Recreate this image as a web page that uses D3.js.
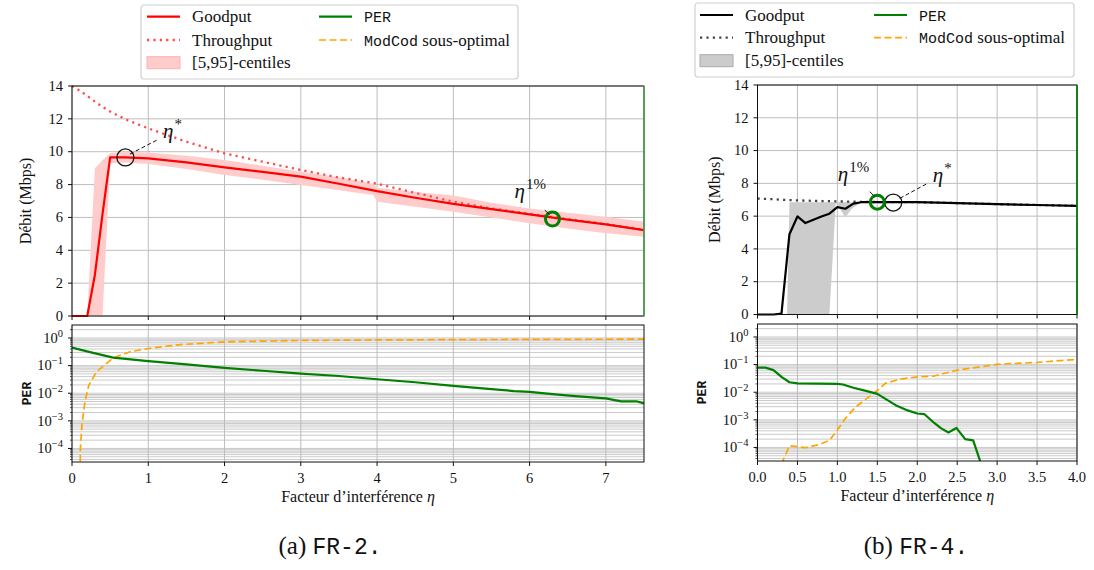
<!DOCTYPE html>
<html><head><meta charset="utf-8">
<script src="https://cdn.jsdelivr.net/npm/d3@7"></script>
<style>body{margin:0;background:#fff}svg text{fill:#111}</style>
</head><body><svg id="c" width="1094" height="570"></svg>
<script>
// ---------- FR-2 data ----------
const fr2Eta        = [0,0.1,0.2,0.3,0.4,0.5,0.7,1.0,1.5,2.0,2.5,3.0,3.5,3.95,4.0,4.5,5.0,5.5,6.0,6.5,7.0,7.5];
const fr2Goodput    = [0,0,0,2.5,6.2,9.65,9.65,9.6,9.35,9.05,8.77,8.48,8.05,7.65,7.6,7.2,6.82,6.5,6.19,5.87,5.58,5.23];
const fr2Throughput = [14.0,13.72,13.4,13.05,12.73,12.45,11.97,11.42,10.61,9.9,9.39,8.89,8.43,8.1,8.06,7.5,6.96,6.55,6.22,5.9,5.6,5.25];
const fr2BandLow    = [0,0,0,0,0,9.3,9.35,9.25,8.95,8.58,8.3,7.97,7.65,7.36,6.96,6.65,6.35,6.0,5.64,5.33,5.03,4.83];
const fr2BandHigh   = [0,0,0,9.0,9.5,9.9,10.0,9.95,9.75,9.5,9.15,8.78,8.45,8.05,7.8,7.55,7.33,6.9,6.55,6.28,6.04,5.74];
const fr2PerEta     = [0,0.25,0.54,1.0,1.5,2.0,2.5,3.0,3.5,4.0,4.5,5.0,5.5,5.8,6.0,6.3,6.6,7.0,7.2,7.4,7.5];
const fr2Per        = [0.447,0.302,0.195,0.145,0.11,0.083,0.065,0.051,0.042,0.032,0.025,0.0186,0.014,0.012,0.0112,0.0093,0.0079,0.0065,0.0051,0.0051,0.0043];
const fr2ModEta     = [0.1,0.11,0.13,0.17,0.22,0.32,0.54,0.76,1.0,1.42,2.0,3.0,4.0,5.0,6.0,7.0,7.5];
const fr2ModCod     = [1e-6,1e-4,7e-4,4.9e-3,0.0195,0.059,0.19,0.316,0.417,0.575,0.724,0.813,0.85,0.87,0.89,0.9,0.91];
const fr2Star = [0.7, 9.65], fr2One = [6.3, 5.9], fr2VLine = 7.5;
const fr2XTicks = [0,1,2,3,4,5,6,7];

// ---------- FR-4 data ----------
const fr4Eta        = [0,0.1,0.2,0.3,0.4,0.5,0.6,0.7,0.8,0.9,1.0,1.1,1.2,1.3,1.5,2.0,2.5,3.0,3.5,4.0];
const fr4Goodput    = [0,0,0,0.05,4.9,5.98,5.58,5.78,5.98,6.15,6.55,6.45,6.76,6.85,6.86,6.85,6.8,6.73,6.68,6.63];
const fr4Throughput = [7.07,7.05,7.03,7.0,6.98,6.96,6.95,6.93,6.92,6.91,6.9,6.89,6.88,6.87,6.86,6.85,6.8,6.73,6.68,6.63];
const fr4BandEta    = [0.37,0.40,0.90,0.98,1.03,1.10,1.18,1.30,1.5];
const fr4BandLow    = [0,0,0,6.8,6.45,5.94,6.45,6.85,6.86];
const fr4BandHigh   = [0,6.85,6.85,6.85,6.85,6.85,6.85,6.87,6.86];
const fr4PerEta     = [0,0.1,0.2,0.3,0.4,0.5,1.0,1.07,1.2,1.37,1.5,1.73,1.88,2.0,2.09,2.22,2.3,2.39,2.49,2.6,2.7,2.8,2.9];
const fr4Per        = [0.078,0.078,0.063,0.036,0.023,0.021,0.020,0.019,0.0145,0.011,0.0087,0.0034,0.0022,0.0017,0.0016,0.00074,0.00049,0.00035,0.00051,0.0002,0.00018,2.5e-5,1e-6];
const fr4ModEta     = [0.3,0.4,0.5,0.6,0.78,0.9,1.0,1.1,1.23,1.37,1.5,1.6,1.78,2.0,2.2,2.5,3.0,3.5,4.0];
const fr4ModCod     = [2.5e-5,1.15e-4,1.07e-4,9.8e-5,1.29e-4,1.8e-4,4.3e-4,1.12e-3,2.95e-3,6.0e-3,0.0115,0.021,0.0295,0.036,0.038,0.063,0.102,0.12,0.155];
const fr4Star = [1.7, 6.83], fr4One = [1.5, 6.85], fr4VLine = 4.0;
const fr4XTicks = [0,0.5,1,1.5,2,2.5,3,3.5,4];

const yTicksTop = [0,2,4,6,8,10,12,14];
const logMajors = [1e-4,1e-3,1e-2,1e-1,1];
const logMajorExp = ["\u22124","\u22123","\u22122","\u22121","0"];

const svg = d3.select("#c");
const defs = svg.append("defs");
const SERIF = '"Liberation Serif", serif';
const MONO = '"Liberation Mono", monospace';
const GRID = "#bdbdbd";
const TICKFS = 14.5, LABFS = 16;

function txt(sel) { return sel.append("text").style("font-family", SERIF); }
function span(t, s, mono) { return t.append("tspan").style("font-family", mono ? MONO : SERIF).text(s); }

function drawChart(c) {
  const g = svg.append("g");
  const x = d3.scaleLinear().domain([0, c.xMax]).range([c.L, c.R]);
  const yT = d3.scaleLinear().domain([0, 14]).range([c.tB, c.tT]);
  const yB = d3.scaleLog().domain([Math.pow(10,-4.49), Math.pow(10,0.47)]).range([c.bB, c.bT]);

  defs.append("clipPath").attr("id", c.id+"T").append("rect")
    .attr("x", c.L).attr("y", c.tT-1).attr("width", c.R-c.L).attr("height", c.tB-c.tT+2.5);
  defs.append("clipPath").attr("id", c.id+"B").append("rect")
    .attr("x", c.L).attr("y", c.bT).attr("width", c.R-c.L).attr("height", c.bB-c.bT);

  // ---- grids ----
  const gg = g.append("g").attr("stroke", GRID).attr("stroke-width", 1);
  c.xTicks.forEach(t => {
    gg.append("line").attr("x1", x(t)).attr("x2", x(t)).attr("y1", c.tT).attr("y2", c.tB);
    gg.append("line").attr("x1", x(t)).attr("x2", x(t)).attr("y1", c.bT).attr("y2", c.bB);
  });
  yTicksTop.forEach(v => gg.append("line").attr("x1", c.L).attr("x2", c.R).attr("y1", yT(v)).attr("y2", yT(v)));
  const [lo, hi] = yB.domain();
  const minorVals = [];
  for (let e = -5; e <= 0; e++) for (let k = 1; k <= 9; k++) {
    const v = k*Math.pow(10,e); if (v >= lo && v <= hi) minorVals.push(v);
  }
  minorVals.forEach(v => gg.append("line").attr("x1", c.L).attr("x2", c.R)
    .attr("y1", yB(v)).attr("y2", yB(v)).attr("stroke-width", 0.8));

  // ---- top panel content ----
  const top = g.append("g").attr("clip-path", `url(#${c.id}T)`);
  top.append("path").datum(c.bandEta.map((e,i)=>[e,c.bandLow[i],c.bandHigh[i]]))
    .attr("fill", c.bandFill).attr("stroke", "none")
    .attr("d", d3.area().x(d=>x(d[0])).y0(d=>yT(d[1])).y1(d=>yT(d[2])));
  const ln = d3.line().x(d=>x(d[0])).y(d=>yT(d[1]));
  top.append("path").datum(c.eta.map((e,i)=>[e,c.thr[i]])).attr("fill","none")
    .attr("stroke", c.thrColor).attr("stroke-width", 2.3).attr("stroke-dasharray","2.2,4.2").attr("d", ln);
  top.append("path").datum(c.eta.map((e,i)=>[e,c.good[i]])).attr("fill","none")
    .attr("stroke", c.goodColor).attr("stroke-width", 2.2).attr("stroke-linejoin","round").attr("d", ln);

  // ---- bottom panel content ----
  const bot = g.append("g").attr("clip-path", `url(#${c.id}B)`);
  const lb = d3.line().x(d=>x(d[0])).y(d=>yB(d[1]));
  bot.append("path").datum(c.modEta.map((e,i)=>[e,c.mod[i]])).attr("fill","none")
    .attr("stroke","#ffa500").attr("stroke-width",1.7).attr("stroke-dasharray","7,3.5").attr("d", lb);
  bot.append("path").datum(c.perEta.map((e,i)=>[e,c.per[i]])).attr("fill","none")
    .attr("stroke","#008000").attr("stroke-width",2.2).attr("stroke-linejoin","round").attr("d", lb);

  // ---- frames ----
  const fr = g.append("g").attr("fill","none").attr("stroke","#111").attr("stroke-width",1);
  fr.append("rect").attr("x", c.L).attr("y", c.tT).attr("width", c.R-c.L).attr("height", c.tB-c.tT);
  fr.append("rect").attr("x", c.L).attr("y", c.bT).attr("width", c.R-c.L).attr("height", c.bB-c.bT);
  g.append("line").attr("x1", x(c.vline)).attr("x2", x(c.vline)).attr("y1", c.tT).attr("y2", c.tB)
    .attr("stroke", c.vColor).attr("stroke-width", 1.6);

  // ---- ticks ----
  const tk = g.append("g").attr("stroke","#111").attr("stroke-width",1);
  c.xTicks.forEach(t => {
    tk.append("line").attr("x1", x(t)).attr("x2", x(t)).attr("y1", c.tB).attr("y2", c.tB+4);
    tk.append("line").attr("x1", x(t)).attr("x2", x(t)).attr("y1", c.bB).attr("y2", c.bB+4);
    txt(g).attr("x", x(t)).attr("y", c.bB+21).attr("text-anchor","middle")
      .attr("font-size", TICKFS).text(c.xFmt(t));
  });
  yTicksTop.forEach(v => {
    tk.append("line").attr("x1", c.L-4).attr("x2", c.L).attr("y1", yT(v)).attr("y2", yT(v));
    txt(g).attr("x", c.L-9).attr("y", yT(v)).attr("dy","0.33em").attr("text-anchor","end")
      .attr("font-size", TICKFS).text(v);
  });
  minorVals.forEach(v => {
    const isMaj = logMajors.some(m => Math.abs(m-v)/m < 1e-9);
    tk.append("line").attr("x1", c.L-(isMaj?4:2)).attr("x2", c.L).attr("y1", yB(v)).attr("y2", yB(v))
      .attr("stroke-width", isMaj?1:0.7);
  });
  logMajors.forEach((v,i) => {
    const t = txt(g).attr("x", c.L-9).attr("y", yB(v)).attr("dy","0.33em")
      .attr("text-anchor","end").attr("font-size", TICKFS);
    span(t, "10");
    span(t, logMajorExp[i]).attr("dy", -6).attr("font-size", 10.5);
  });

  // ---- axis labels ----
  const xl = txt(g).attr("x", (c.L+c.R)/2).attr("y", c.bB+40).attr("text-anchor","middle")
    .attr("font-size", LABFS);
  span(xl, "Facteur d\u2019interf\u00e9rence ");
  span(xl, "\u03b7").attr("font-style","italic");
  txt(g).attr("transform", `translate(${c.yLabX},${(c.tT+c.tB)/2}) rotate(-90)`)
    .attr("text-anchor","middle").attr("font-size", LABFS).text("D\u00e9bit (Mbps)");
  g.append("text").attr("transform", `translate(${c.perLabX},${(c.bT+c.bB)/2}) rotate(-90)`)
    .attr("text-anchor","middle").attr("font-size", 13).attr("font-weight","bold")
    .style("font-family", MONO).text("PER");

  // ---- annotations ----
  const sx = x(c.star[0]), sy = yT(c.star[1]);
  g.append("circle").attr("cx", sx).attr("cy", sy).attr("r", 8.5).attr("fill","none")
    .attr("stroke","#111").attr("stroke-width",1.3);
  g.append("line").attr("x1", sx+c.starLine[0]).attr("y1", sy+c.starLine[1])
    .attr("x2", sx+c.starLine[2]).attr("y2", sy+c.starLine[3])
    .attr("stroke","#111").attr("stroke-width",1).attr("stroke-dasharray","4,2.5");
  const st = txt(g).attr("x", sx+c.starText[0]).attr("y", sy+c.starText[1]).attr("font-size", 21);
  span(st, "\u03b7").attr("font-style","italic");
  span(st, "*").attr("dy", -9).attr("dx", 1).attr("font-size", 15);

  const ox = x(c.one[0]), oy = yT(c.one[1]);
  g.append("circle").attr("cx", ox).attr("cy", oy).attr("r", 7).attr("fill","none")
    .attr("stroke","#008000").attr("stroke-width",3);
  g.append("line").attr("x1", ox+c.oneLine[0]).attr("y1", oy+c.oneLine[1])
    .attr("x2", ox+c.oneLine[2]).attr("y2", oy+c.oneLine[3]).attr("stroke","#111").attr("stroke-width",1);
  const ot = txt(g).attr("x", ox+c.oneText[0]).attr("y", oy+c.oneText[1]).attr("font-size", 21);
  span(ot, "\u03b7").attr("font-style","italic");
  span(ot, "1%").attr("dy", -9).attr("dx", 1).attr("font-size", 15);

  // ---- caption ----
  const cap = txt(g).attr("x", c.capX).attr("y", 554).attr("text-anchor","middle").attr("font-size", 25);
  span(cap, c.capA + " ");
  span(cap, c.capB, true).attr("font-size", 23);
}

function legend(o) {
  const g = svg.append("g");
  g.append("rect").attr("x", o.x).attr("y", o.y).attr("width", o.w).attr("height", o.h)
    .attr("rx", 3).attr("fill","white").attr("stroke","#d0d0d0").attr("stroke-width",1.2);
  const cols = [o.c1, o.c2];
  o.items.forEach(it => {
    const hx = cols[it.col], cy = o.rows[it.row];
    if (it.type === "patch") {
      g.append("rect").attr("x", hx).attr("y", cy-6).attr("width", 33).attr("height", 12)
        .attr("fill", it.fill).attr("stroke", it.stroke).attr("stroke-width",1);
    } else {
      g.append("line").attr("x1", hx).attr("x2", hx+33).attr("y1", cy).attr("y2", cy)
        .attr("stroke", it.color).attr("stroke-width", it.w).attr("stroke-dasharray", it.dash || null);
    }
    const t = txt(g).attr("x", hx+45).attr("y", cy).attr("dy","0.33em").attr("font-size", 17);
    it.parts.forEach(p => {
      const s = span(t, p.t, p.mono);
      if (p.mono) s.attr("font-size", 15);
    });
  });
}

drawChart({
  id:"a", xMax:7.5, L:72, R:644, tT:86, tB:316, bT:325, bB:462, xTicks:fr2XTicks, xFmt:d3.format("d"),
  eta:fr2Eta, good:fr2Goodput, thr:fr2Throughput, bandEta:fr2Eta, bandLow:fr2BandLow, bandHigh:fr2BandHigh,
  perEta:fr2PerEta, per:fr2Per, modEta:fr2ModEta, mod:fr2ModCod,
  goodColor:"#ff0000", thrColor:"#ff4d4d", bandFill:"#ffcccc",
  vline:fr2VLine, vColor:"#4ca64c", star:fr2Star, one:fr2One,
  starLine:[4.6,-3.4,32.9,-18.1], starText:[37.6,-19],
  oneLine:[-7.7,-9,-3,-4.5], oneText:[-38,-21],
  yLabX:31, perLabX:31, capX:330, capA:"(a)", capB:"FR-2."
});
drawChart({
  id:"b", xMax:4, L:757.5, R:1077, tT:85, tB:314.5, bT:324, bB:461, xTicks:fr4XTicks, xFmt:d3.format(".1f"),
  eta:fr4Eta, good:fr4Goodput, thr:fr4Throughput, bandEta:fr4BandEta, bandLow:fr4BandLow, bandHigh:fr4BandHigh,
  perEta:fr4PerEta, per:fr4Per, modEta:fr4ModEta, mod:fr4ModCod,
  goodColor:"#000000", thrColor:"#444444", bandFill:"#cccccc",
  vline:fr4VLine, vColor:"#008000", star:fr4Star, one:fr4One,
  starLine:[33,-18.5,6.5,-4.2], starText:[39.5,-21],
  oneLine:[-7.5,-10.5,-2.5,-5.5], oneText:[-39.5,-21],
  yLabX:720, perLabX:706, capX:916, capA:"(b)", capB:"FR-4."
});

legend({x:141, y:5, w:377, h:74, c1:147, c2:319, rows:[16.7,40,62.7], items:[
  {col:0,row:0,color:"#ff0000",w:2.2,parts:[{t:"Goodput"}]},
  {col:0,row:1,color:"#ff4d4d",w:2.3,dash:"2.2,4.2",parts:[{t:"Throughput"}]},
  {col:0,row:2,type:"patch",fill:"#ffcccc",stroke:"#ffb0b0",parts:[{t:"[5,95]-centiles"}]},
  {col:1,row:0,color:"#008000",w:2.2,parts:[{t:"PER",mono:true}]},
  {col:1,row:1,color:"#ffa500",w:1.7,dash:"7,3.5",parts:[{t:"ModCod",mono:true},{t:" sous-optimal"}]}
]});
legend({x:695, y:3, w:379, h:74, c1:700, c2:874, rows:[15,37.7,60.7], items:[
  {col:0,row:0,color:"#000000",w:2.2,parts:[{t:"Goodput"}]},
  {col:0,row:1,color:"#444444",w:2.3,dash:"2.2,4.2",parts:[{t:"Throughput"}]},
  {col:0,row:2,type:"patch",fill:"#cccccc",stroke:"#aaaaaa",parts:[{t:"[5,95]-centiles"}]},
  {col:1,row:0,color:"#008000",w:2.2,parts:[{t:"PER",mono:true}]},
  {col:1,row:1,color:"#ffa500",w:1.7,dash:"7,3.5",parts:[{t:"ModCod",mono:true},{t:" sous-optimal"}]}
]});
</script></body></html>
